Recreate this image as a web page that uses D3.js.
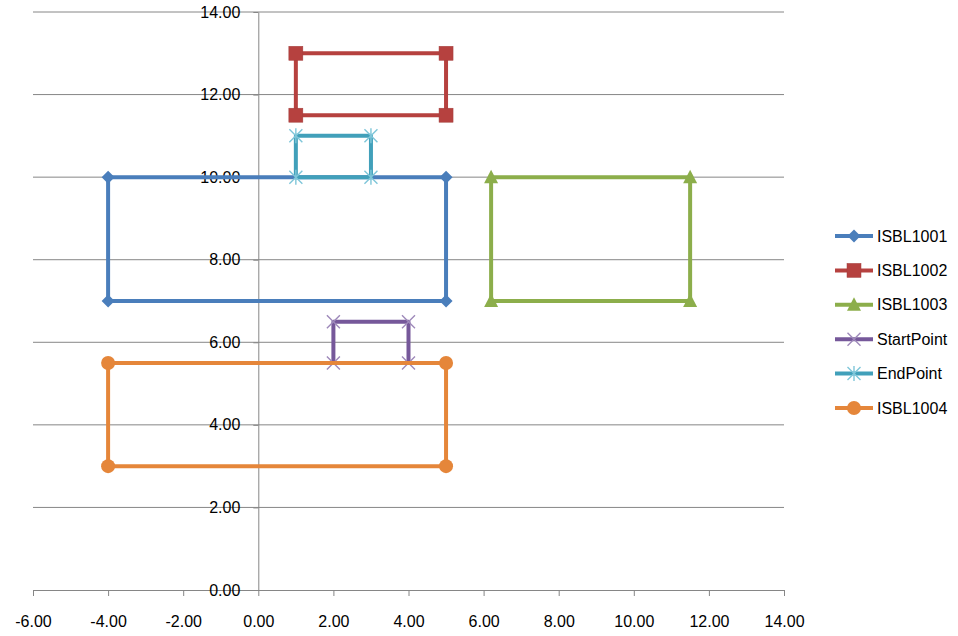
<!DOCTYPE html>
<html><head><meta charset="utf-8">
<script src="https://cdn.jsdelivr.net/npm/d3@7"></script>
<style>body{margin:0;background:#fff}svg{display:block}text{font-family:"Liberation Sans",Arial,sans-serif}</style>
</head><body>
<svg id="c" width="958" height="636"></svg>
<script>
const seriesNames = ["ISBL1001","ISBL1002","ISBL1003","StartPoint","EndPoint","ISBL1004"];
const ISBL1001 = [[-4,10],[5,10],[5,7],[-4,7],[-4,10]];
const ISBL1002 = [[1,13],[5,13],[5,11.5],[1,11.5],[1,13]];
const ISBL1003 = [[6.2,10],[11.5,10],[11.5,7],[6.2,7],[6.2,10]];
const StartPoint = [[2,5.5],[2,6.5],[4,6.5],[4,5.5],[2,5.5]];
const EndPoint = [[1,10],[1,11],[3,11],[3,10],[1,10]];
const ISBL1004 = [[-4,5.5],[5,5.5],[5,3],[-4,3],[-4,5.5]];
const xTicks = [-6,-4,-2,0,2,4,6,8,10,12,14];
const yTicks = [0,2,4,6,8,10,12,14];

const data = [ISBL1001,ISBL1002,ISBL1003,StartPoint,EndPoint,ISBL1004];
const colors = ["#4A7EBB","#B6413F","#8CAE4B","#76589A","#41A0BA","#E5863A"];
const strokes = ["#3C6AA3","#A33F3C","#7F9E42","#6A4F8B","#3A93AB","#E07F33"];
const shapes = ["diamond","square","triangle","x","star","circle"];

const svg = d3.select("#c");
const x = d3.scaleLinear().domain([-6,14]).range([33,784]);
const y = d3.scaleLinear().domain([0,14]).range([590,12]);
const axisCol = "#868686";

// gridlines
svg.append("g").selectAll("line").data(yTicks.filter(d=>d>0)).join("line")
  .attr("x1",x(-6)).attr("x2",x(14)).attr("y1",d=>y(d)).attr("y2",d=>y(d))
  .attr("stroke",axisCol).attr("stroke-width",1);

// x axis
const xa = svg.append("g").attr("transform",`translate(0,${y(0)})`)
  .call(d3.axisBottom(x).tickValues(xTicks).tickSize(6).tickSizeOuter(0).tickFormat(d=>d.toFixed(2)));
xa.select(".domain").attr("stroke",axisCol);
xa.selectAll(".tick line").attr("stroke",axisCol);
xa.selectAll("text").attr("font-size",16).attr("fill","#000").attr("y",31).attr("dy","0.35em");

// y axis
const ya = svg.append("g").attr("transform",`translate(${x(0)},0)`)
  .call(d3.axisLeft(y).tickValues(yTicks).tickSize(5).tickSizeOuter(0).tickFormat(d=>d.toFixed(2)));
ya.select(".domain").attr("stroke",axisCol);
ya.selectAll(".tick line").attr("stroke",axisCol);
ya.selectAll("text").attr("font-size",16).attr("fill","#000").attr("x",-18);

function marker(g, shape, cx, cy, fill, stroke){
  if(shape==="diamond"){
    const s = 6.5;
    g.append("path").attr("d",`M${cx},${cy-s}L${cx+s},${cy}L${cx},${cy+s}L${cx-s},${cy}Z`).attr("fill",fill);
  } else if(shape==="square"){
    const s = 7;
    g.append("rect").attr("x",cx-s).attr("y",cy-s).attr("width",2*s).attr("height",2*s).attr("fill",fill).attr("stroke",stroke).attr("stroke-width",0.5);
  } else if(shape==="triangle"){
    g.append("path").attr("d",`M${cx},${cy-7.5}L${cx+7},${cy+6}L${cx-7},${cy+6}Z`).attr("fill",fill);
  } else if(shape==="x"){
    const s = 6.5;
    g.append("path").attr("d",`M${cx-s},${cy-s}L${cx+s},${cy+s}M${cx-s},${cy+s}L${cx+s},${cy-s}`).attr("stroke","#9E89BA").attr("stroke-width",1.4);
  } else if(shape==="star"){
    const s = 6.5;
    g.append("path").attr("d",`M${cx-s},${cy-s}L${cx+s},${cy+s}M${cx-s},${cy+s}L${cx+s},${cy-s}M${cx},${cy-s-1}L${cx},${cy+s+1}`).attr("stroke","#7FC6D9").attr("stroke-width",1.4);
  } else if(shape==="circle"){
    g.append("circle").attr("cx",cx).attr("cy",cy).attr("r",7).attr("fill",fill);
  }
}

const line = d3.line().x(d=>x(d[0])).y(d=>y(d[1]));
data.forEach((pts,i)=>{
  const g = svg.append("g");
  g.append("path").attr("d",line(pts)).attr("fill","none").attr("stroke",colors[i])
    .attr("stroke-width",4).attr("stroke-linejoin","round");
  pts.slice(0,4).forEach(p=>marker(g,shapes[i],x(p[0]),y(p[1]),colors[i],strokes[i]));
});

// legend
const lg = svg.append("g");
seriesNames.forEach((n,i)=>{
  const ly = 236 + i*34.4;
  const g = lg.append("g");
  g.append("line").attr("x1",835).attr("x2",873).attr("y1",ly).attr("y2",ly).attr("stroke",colors[i]).attr("stroke-width",4);
  marker(g,shapes[i],854,ly,colors[i],strokes[i]);
  g.append("text").attr("x",877).attr("y",ly).attr("dy","0.35em").attr("font-size",16).attr("fill","#000").text(n);
});
</script>
</body></html>
